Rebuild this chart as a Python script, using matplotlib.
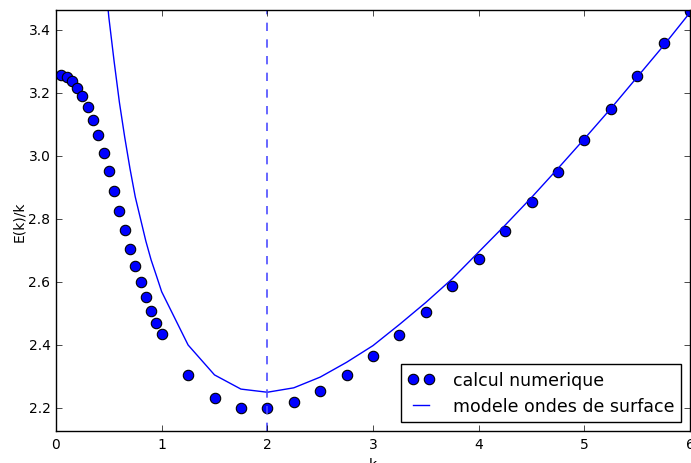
import matplotlib
matplotlib.use("Agg")
import matplotlib.pyplot as plt

plt.style.use("classic")

# numerical results E(k)/k
k_num = [0.05, 0.10, 0.15, 0.20, 0.25, 0.30, 0.35, 0.40, 0.45, 0.50,
         0.55, 0.60, 0.65, 0.70, 0.75, 0.80, 0.85, 0.90, 0.95, 1.00,
         1.25, 1.50, 1.75, 2.00, 2.25, 2.50, 2.75, 3.00, 3.25, 3.50,
         3.75, 4.00, 4.25, 4.50, 4.75, 5.00, 5.25, 5.50, 5.75, 6.00]
E_num = [3.257, 3.251, 3.237, 3.217, 3.190, 3.156, 3.114, 3.066, 3.010, 2.951,
         2.889, 2.826, 2.766, 2.706, 2.651, 2.600, 2.551, 2.508, 2.470, 2.434,
         2.304, 2.233, 2.201, 2.200, 2.219, 2.255, 2.306, 2.365, 2.431, 2.506,
         2.586, 2.672, 2.762, 2.855, 2.950, 3.049, 3.149, 3.252, 3.358, 3.461]

# surface wave model
k_mod = [0.45, 0.50, 0.55, 0.60, 0.65, 0.70, 0.75, 0.80, 0.85, 0.90, 0.95, 1.00,
         1.25, 1.50, 1.75, 2.00, 2.25, 2.50, 2.75, 3.00, 3.25, 3.50,
         3.75, 4.00, 4.25, 4.50, 4.75, 5.00, 5.25, 5.50, 5.75, 6.00]
E_mod = [3.62, 3.44, 3.30, 3.17, 3.06, 2.96, 2.87, 2.80, 2.73, 2.67, 2.62, 2.569,
         2.400, 2.305, 2.260, 2.250, 2.264, 2.298, 2.345, 2.398, 2.465, 2.535,
         2.610, 2.695, 2.780, 2.868, 2.960, 3.054, 3.150, 3.250, 3.350, 3.455]

k_min = 2.0

fig = plt.figure(figsize=(6.91, 4.64), dpi=100, facecolor="white")
ax = fig.add_axes([56 / 691, 1 - 432 / 464, 634 / 691, 421 / 464])

ax.plot(k_num, E_num, "bo", markersize=7.5, markeredgewidth=0.8,
        markeredgecolor="black", label="calcul numerique")
ax.plot(k_mod, E_mod, "b-", linewidth=1.0, label="modele ondes de surface")
ax.axvline(k_min, color="#4d4dff", linestyle="--", linewidth=1.2)

ax.set_xlim(0, 6)
ax.set_ylim(2.127, 3.463)
ax.set_yticks([2.2, 2.4, 2.6, 2.8, 3.0, 3.2, 3.4])
ax.tick_params(labelsize=10, length=4)
ax.set_xlabel("k", fontsize=10)
ax.set_ylabel("E(k)/k", fontsize=10, labelpad=2)

ax.legend(loc="lower right", numpoints=2, handlelength=1.5,
          handletextpad=1.1, fontsize=12.5, borderaxespad=0.5)

fig.savefig("out.png", dpi=100, facecolor="white")
